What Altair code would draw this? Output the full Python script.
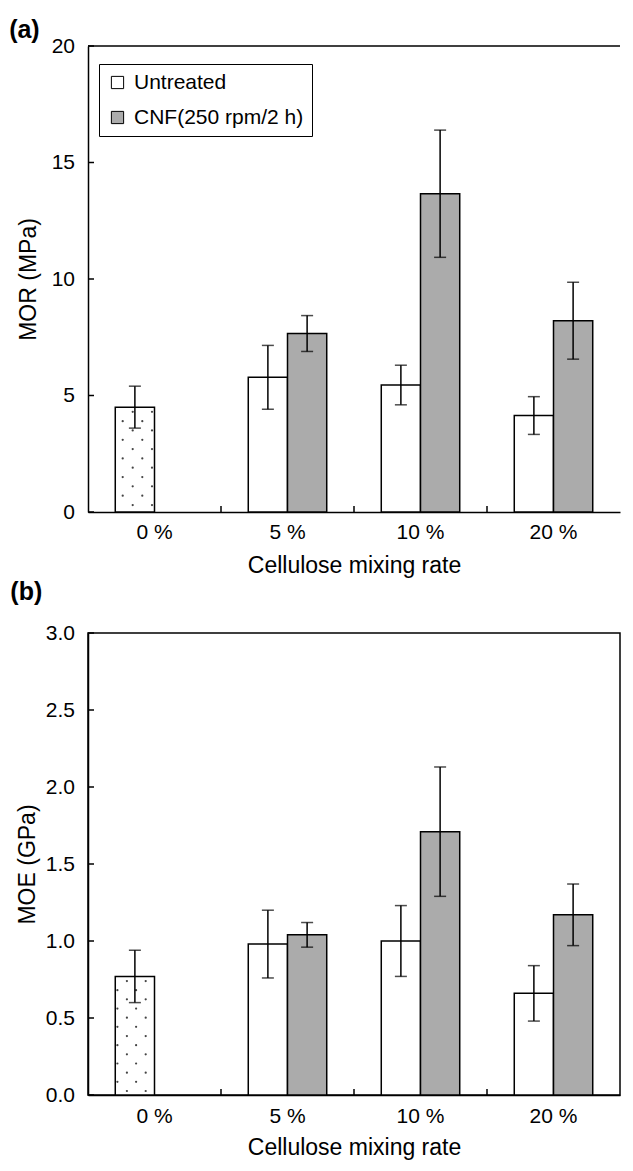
import altair as alt
import pandas as pd

cats = ["0 %", "5 %", "10 %", "20 %"]
series = ["Untreated", "CNF(250 rpm/2 h)"]

mor_untreated = [4.50, 5.78, 5.45, 4.14]
mor_untreated_sd = [0.90, 1.37, 0.85, 0.81]
mor_cnf = [None, 7.66, 13.66, 8.21]
mor_cnf_sd = [None, 0.77, 2.73, 1.65]

moe_untreated = [0.77, 0.98, 1.00, 0.66]
moe_untreated_sd = [0.17, 0.22, 0.23, 0.18]
moe_cnf = [None, 1.04, 1.71, 1.17]
moe_cnf_sd = [None, 0.08, 0.42, 0.20]

mor_ticks = [0, 5, 10, 15, 20]
moe_ticks = [0.0, 0.5, 1.0, 1.5, 2.0, 2.5, 3.0]

FONT = "Liberation Sans"
GRAY = "#ababab"
TICK_FS = 21
TITLE_FS = 23


def make_df(unt, unt_sd, cnf, cnf_sd):
    rows = []
    for i, c in enumerate(cats):
        for s, v, sd in ((series[0], unt[i], unt_sd[i]), (series[1], cnf[i], cnf_sd[i])):
            if v is None:
                continue
            rows.append({"cat": c, "series": s, "value": v, "lo": v - sd, "hi": v + sd})
    return pd.DataFrame(rows)


def make_dots(top, base, step):
    # stipple texture of the 0 % bar (diamond lattice of dots)
    rows = []
    j = 0
    while base + j * step < top - 0.4 * step:
        for k in ((1, 3) if j % 2 == 0 else (0, 2)):
            rows.append({"cat": cats[0], "value": base + j * step, "col": k})
        j += 1
    return pd.DataFrame(rows)


def panel(df, dots, dot_offsets, ticks, ymax, fmt, ytitle, label, width, height,
          legend_y, boxed, ytitle_pad, head_offset, head_dx, xlab_pad, xtitle_pad):
    xscale = alt.Scale(domain=cats, paddingInner=0, paddingOuter=0)
    xaxis = alt.Axis(title="Cellulose mixing rate", labelAngle=0, ticks=False,
                     domainColor="black", domainWidth=1.5, labelFontSize=TICK_FS,
                     titleFontSize=TITLE_FS, labelColor="black", titleColor="black",
                     titleFontWeight="normal", labelPadding=xlab_pad, titlePadding=xtitle_pad,
                     labelFont=FONT, titleFont=FONT)

    def X(**kw):
        return alt.X("cat:N", scale=xscale, axis=xaxis, **kw)

    XO = alt.XOffset("series:N", scale=alt.Scale(domain=series, paddingInner=0,
                                                 paddingOuter=0.695))
    yscale = alt.Scale(domain=[0, ymax], nice=False, zero=True)
    yaxis = alt.Axis(title=ytitle, values=ticks, format=fmt, ticks=False, grid=False,
                     domainColor="black", domainWidth=1.5, labelFontSize=TICK_FS,
                     titleFontSize=TITLE_FS, labelColor="black", titleColor="black",
                     titleFontWeight="normal", labelPadding=13.5, titlePadding=ytitle_pad,
                     labelFont=FONT, titleFont=FONT)

    def Y(f):
        return alt.Y(f, scale=yscale, axis=yaxis)

    bars = alt.Chart(df).mark_bar(stroke="black", strokeWidth=1.5).encode(
        x=X(), xOffset=XO, y=Y("value:Q"),
        fill=alt.Fill("series:N", title=None,
                      scale=alt.Scale(domain=series, range=["white", GRAY]),
                      legend=alt.Legend(orient="none", legendX=11, legendY=legend_y,
                                        strokeColor="black", padding=8, fillColor="white",
                                        symbolType="square", symbolSize=150,
                                        symbolStrokeColor="black", symbolStrokeWidth=1,
                                        labelFontSize=21, labelFont=FONT, labelColor="black",
                                        labelLimit=300, rowPadding=13, labelOffset=6,
                                        symbolOpacity=1)))

    dot_layers = []
    for k in range(4):
        dot_layers.append(
            alt.Chart(dots[dots.col == k]).mark_circle(
                size=5, color="#444444", opacity=1, xOffset=dot_offsets[k]
            ).encode(x=X(), y=Y("value:Q")))

    err = alt.Chart(df).mark_rule(color="black", strokeWidth=1.5).encode(
        x=X(), xOffset=XO, y=Y("lo:Q"), y2="hi:Q")
    cap_lo = alt.Chart(df).mark_tick(color="black", thickness=1.5, size=12).encode(
        x=X(), xOffset=XO, y=Y("lo:Q"))
    cap_hi = alt.Chart(df).mark_tick(color="black", thickness=1.5, size=12).encode(
        x=X(), xOffset=XO, y=Y("hi:Q"))

    ytick_df = pd.DataFrame({"value": ticks})
    yticks = alt.Chart(ytick_df).mark_rule(color="black", strokeWidth=1.5).encode(
        y=Y("value:Q"), x=alt.value(0), x2=alt.value(6))
    xtick_df = pd.DataFrame({"cat": cats[1:]})
    xticks = alt.Chart(xtick_df).mark_rule(color="black", strokeWidth=1.5).encode(
        x=X(bandPosition=0), y=alt.value(height), y2=alt.value(height - 6))

    layers = [bars] + dot_layers + [err, cap_lo, cap_hi, yticks, xticks]
    if not boxed:
        top_df = pd.DataFrame({"value": [ymax]})
        layers.append(alt.Chart(top_df).mark_rule(color="black", strokeWidth=1.5).encode(
            y=Y("value:Q"), x=alt.value(0), x2=alt.value(width)))

    view = alt.ViewBackground(stroke="black" if boxed else "transparent", strokeWidth=1.5)
    return alt.layer(*layers).properties(
        width=width, height=height, view=view,
        title=alt.TitleParams(label, anchor="start", frame="bounds", fontSize=25,
                              fontWeight="bold", font=FONT, color="black", dx=head_dx,
                              offset=head_offset))


df_a = make_df(mor_untreated, mor_untreated_sd, mor_cnf, mor_cnf_sd)
df_b = make_df(moe_untreated, moe_untreated_sd, moe_cnf, moe_cnf_sd)
dots_a = make_dots(mor_untreated[0], 0.3, 0.4)
dots_b = make_dots(moe_untreated[0], 0.026, 0.0595)

pa = panel(df_a, dots_a, [-31.8, -21.8, -12.2, -2.5], mor_ticks, 20, "d", "MOR (MPa)", "(a)",
           532, 466, 18, False, 11, -7.5, -8, 9, 12)
pb = panel(df_b, dots_b, [-37.1, -27.6, -18.4, -8.8], moe_ticks, 3.0, ".1f", "MOE (GPa)", "(b)",
           532, 462, 22, True, 6, 17.5, -6, 10, 10)

chart = alt.vconcat(pa, pb, spacing=0).properties(
    padding={"left": 0, "top": 8, "right": 0, "bottom": 0}
).configure(font=FONT)

chart.save("out.html", embed_options={"renderer": "svg", "actions": False})
